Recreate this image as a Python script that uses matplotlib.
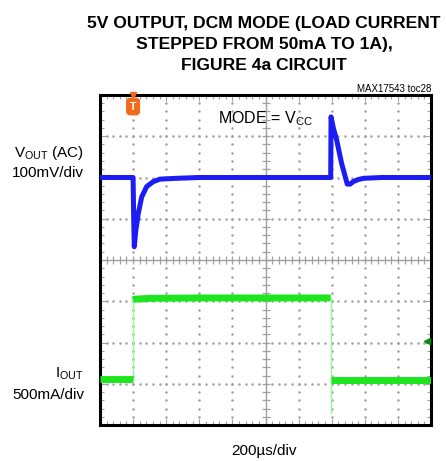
import numpy as np
import matplotlib
matplotlib.use('Agg')
from matplotlib import pyplot as plt

plt.rcParams['font.family'] = ['Liberation Sans', 'DejaVu Sans']
plt.rcParams['mathtext.fontset'] = 'custom'
plt.rcParams['mathtext.rm'] = 'Liberation Sans'
plt.rcParams['mathtext.it'] = 'Liberation Sans'

# scope screen: 10 x 8 divisions, trigger at 1 div, centre line at 0
# VOUT trace (channel 1), divisions
vout_t = [0.0, 0.99, 1.0, 1.02, 1.036, 1.08, 1.157, 1.26, 1.41, 1.61, 1.81, 2.3, 3.0,
          6.97, 6.98, 7.05, 7.15, 7.30, 7.47, 7.56, 7.65, 7.80, 7.96, 8.5, 10.0]
vout_v = [2.0, 2.0, 2.0, 0.9, 0.32, 0.7, 1.13, 1.53, 1.78, 1.90, 1.96, 1.98, 2.0,
          2.0, 3.47, 3.2, 2.91, 2.34, 1.84, 1.84, 1.90, 1.95, 1.98, 2.0, 2.0]

# IOUT trace (channel 2), divisions
iout_t = [0.0, 1.0, 1.0, 1.05, 1.5, 3.0, 6.97, 6.97, 10.0]
iout_v = [-2.88, -2.88, -0.97, -0.95, -0.93, -0.92, -0.92, -2.90, -2.90]

# thin edge of the load step going past the trace
edge_t = [6.975, 6.975]
edge_v = [-0.92, -3.7]

gnd_marker = (9.87, -1.96)
trig_pos = 1.0

BLUE = '#1c1cf5'
GREEN = '#1ee61e'
ORANGE = '#f26a1b'
GRID = '#a0a0a0'

fig = plt.figure(figsize=(4.46, 4.61), dpi=100)
ax = fig.add_axes([100 / 446, 36 / 461, 331 / 446, 330 / 461])
ax.set_xlim(0, 10)
ax.set_ylim(-4, 4)

# dotted graticule
dots = np.arange(0, 10.01, 0.2)
for gx in range(1, 10):
    if gx == 5:
        continue
    ax.plot(np.full(41, gx), np.arange(-4, 4.01, 0.2), ls='none', marker='.',
            ms=1.6, color=GRID, zorder=1)
for gy in range(-3, 4):
    if gy == 0:
        continue
    ax.plot(dots, np.full(len(dots), gy), ls='none', marker='.', ms=1.6,
            color=GRID, zorder=1)

# centre axes with minor ticks
ax.axhline(0, color=GRID, lw=1.0, zorder=1)
ax.axvline(5, color=GRID, lw=1.0, zorder=1)
ax.plot(dots, np.zeros(len(dots)), ls='none', marker='|', ms=6, mew=0.9,
        color=GRID, zorder=1)
ax.plot(np.full(41, 5), np.arange(-4, 4.01, 0.2), ls='none', marker='_', ms=6,
        mew=0.9, color=GRID, zorder=1)

# traces
ax.plot(vout_t, vout_v, color=BLUE, lw=3.6, solid_joinstyle='round', zorder=3)
ax.plot([6.97, 6.97], [2.0, 3.4], color='#9090ff', lw=1.0, zorder=2)
ax.plot(iout_t[:2], iout_v[:2], color=GREEN, lw=5, solid_capstyle='butt', zorder=3)
ax.plot(iout_t[1:3], iout_v[1:3], color='#9af59a', lw=1.0, zorder=2)
ax.plot(iout_t[2:7], iout_v[2:7], color=GREEN, lw=5, solid_capstyle='butt', zorder=3)
ax.plot(edge_t, edge_v, color='#9af59a', lw=1.0, zorder=2)
ax.plot(iout_t[7:], iout_v[7:], color=GREEN, lw=5, solid_capstyle='butt', zorder=3)

# markers
ax.plot(*gnd_marker, marker='<', ms=5, color='#0a8a0a', zorder=4, clip_on=False)
ax.text(trig_pos, 3.72, 'T', color='white', fontsize=7.5, fontweight='bold',
        ha='center', va='center', zorder=5,
        bbox=dict(boxstyle='round,pad=0.3', fc=ORANGE, ec=ORANGE))
ax.plot(trig_pos, 4.0, marker='v', ms=4, color=ORANGE, zorder=5, clip_on=False)

ax.text(3.56, 3.32, 'MODE = V$_{\\mathrm{CC}}$', fontsize=11.5, ha='left',
        va='baseline')

# frame with inward ticks
for s in ax.spines.values():
    s.set_linewidth(2.2)
    s.set_color('black')
ax.set_xticks(np.arange(0, 10.01, 1))
ax.set_yticks(np.arange(-4, 4.01, 1))
ax.set_xticks(np.arange(0, 10.01, 0.2), minor=True)
ax.set_yticks(np.arange(-4, 4.01, 0.2), minor=True)
ax.tick_params(which='both', direction='in', top=True, right=True,
               labelbottom=False, labelleft=False, color=GRID, width=0.8)
ax.tick_params(which='major', length=4)
ax.tick_params(which='minor', length=3)

# titles and labels
title_lines = ['5V OUTPUT, DCM MODE (LOAD CURRENT', 'STEPPED FROM 50mA TO 1A),',
               'FIGURE 4a CIRCUIT']
for i, line in enumerate(title_lines):
    fig.text(264 / 446, 1 - (28 + 21 * i) / 461, line, ha='center',
             va='baseline', fontsize=12.6, fontweight='bold')
fig.text(431 / 446, 1 - 92 / 461, 'MAX17543 toc28', ha='right', va='baseline',
         fontsize=7)

fig.text(84 / 446, 1 - 157 / 461, 'V$_{\\mathrm{OUT}}$ (AC)', ha='right',
         va='baseline', fontsize=11)
fig.text(84 / 446, 1 - 177 / 461, '100mV/div', ha='right', va='baseline',
         fontsize=11)
fig.text(84 / 446, 1 - 378 / 461, 'I$_{\\mathrm{OUT}}$', ha='right',
         va='baseline', fontsize=11)
fig.text(84 / 446, 1 - 399 / 461, '500mA/div', ha='right', va='baseline',
         fontsize=11)
fig.text(264 / 446, 1 - 455 / 461, '200µs/div', ha='center', va='baseline',
         fontsize=11)

fig.savefig('out.png', dpi=100)
